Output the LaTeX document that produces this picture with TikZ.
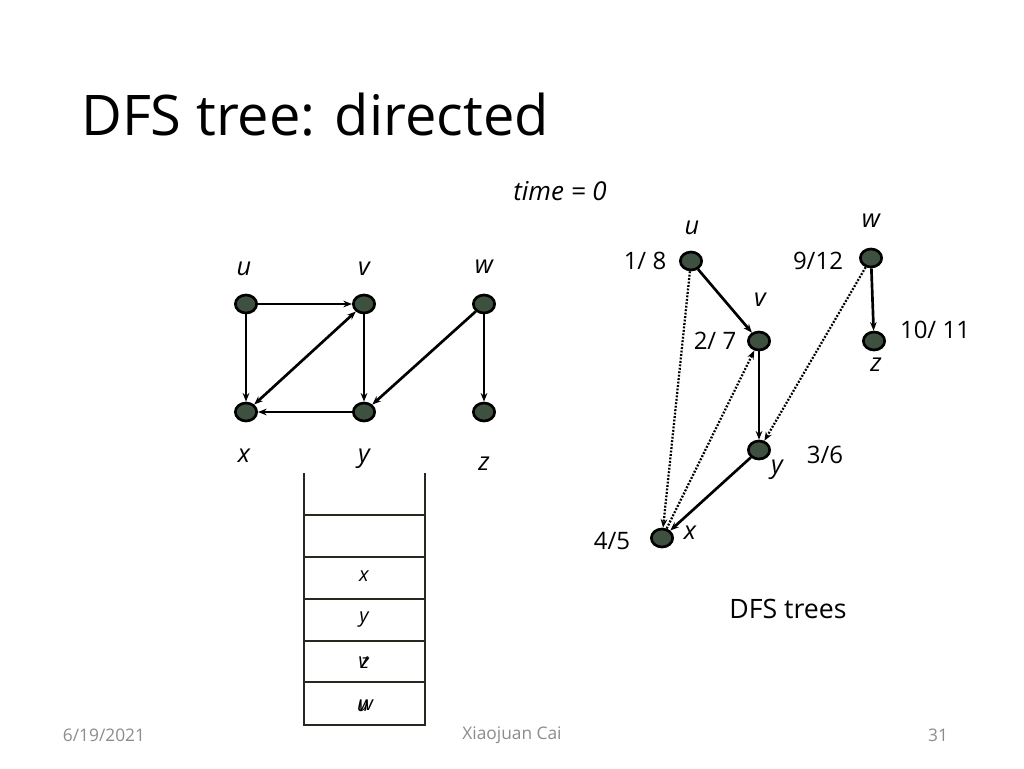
\documentclass[tikz,border=0pt]{standalone}
\usepackage{fontspec}
\setmainfont{Open Sans}
\usetikzlibrary{arrows.meta,shapes.geometric}
\definecolor{nodefill}{RGB}{62,80,64}
\definecolor{stackcol}{RGB}{40,40,32}
\definecolor{footgray}{RGB}{140,140,140}
\begin{document}
\begin{tikzpicture}[x=0.75pt,y=-0.75pt,
  vtx/.style={ellipse,draw=black,line width=2pt,fill=nodefill,minimum width=16pt,minimum height=13.5pt,inner sep=0pt},
  lbl/.style={font=\fontsize{19}{22}\selectfont\itshape,inner sep=0pt},
  slbl/.style={font=\fontsize{15}{18}\selectfont\itshape,inner sep=0pt},
  num/.style={font=\fontsize{18}{21}\selectfont,inner sep=0pt},
  edge/.style={line width=2pt,-{Stealth[length=6.5pt,width=5pt]}},
  back/.style={line width=1.7pt,dash pattern=on 1.4pt off 1.2pt,-{Stealth[length=6.5pt,width=5pt]}},
  stk/.style={line width=2.2pt,draw=stackcol},
  foot/.style={font=\fontsize{13}{15}\selectfont,text=footgray,inner sep=0pt}]
\useasboundingbox (0,0) rectangle (1024,768);
\fill[white] (0,0) rectangle (1024,768);
% title
\node[anchor=base west,inner sep=0pt,font=\fontsize{42}{48}\selectfont] (title) at (81,135) {DFS tree: directed};
\node[anchor=base,inner sep=0pt,font=\fontsize{19.5}{22}\selectfont\itshape] (time) at (560,200) {time = 0};
% left graph
\node[vtx] (u) at (246,304) {};
\node[vtx] (v) at (364,304) {};
\node[vtx] (w) at (484,304) {};
\node[vtx] (x) at (246,412) {};
\node[vtx] (y) at (364,412) {};
\node[vtx] (z) at (484,412) {};
\node[lbl] (lu) at (244,269) {u};
\node[lbl] (lv) at (364,269) {v};
\node[lbl] (lw) at (484,267) {w};
\node[lbl] (lx) at (244,456) {x};
\node[lbl] (ly) at (364,459) {y};
\node[lbl] (lz) at (484,464) {z};
\draw[edge] (u) -- (v);
\draw[edge] (u) -- (x);
\draw[edge,{Stealth[length=6.5pt,width=5pt]}-{Stealth[length=6.5pt,width=5pt]}] (x) -- (v);
\draw[edge] (y) -- (x);
\draw[edge] (v) -- (y);
\draw[edge] (w) -- (y);
\draw[edge] (w) -- (z);
% stack
\draw[stk] (304,473) -- (304,725) -- (425,725) -- (425,473);
\foreach \yy in {515,557,599,641,682} \draw[stk] (304,\yy) -- (425,\yy);
\node[slbl] (sx) at (364,576) {x};
\node[slbl] (sy) at (364,620) {y};
\node[slbl] (sz) at (365,663) {z};
\node[slbl] (sv) at (363,662) {v};
\node[slbl] (sw) at (366,705) {w};
\node[slbl] (su) at (363,706) {u};
% right tree
\node[vtx] (tu) at (691,261) {};
\node[vtx] (tw) at (871,258) {};
\node[vtx] (tv) at (759,341) {};
\node[vtx] (tz) at (874,341) {};
\node[vtx] (ty) at (759,450) {};
\node[vtx] (tx) at (662,538) {};
\node[lbl] (tlu) at (692,228) {u};
\node[lbl] (tlw) at (871,221) {w};
\node[lbl] (tlv) at (760,300) {v};
\node[lbl] (tlz) at (876,365) {z};
\node[lbl] (tly) at (777,470) {y};
\node[lbl] (tlx) at (690,533) {x};
\node[num] (n18) at (645,261) {1/ 8};
\node[num] (n912) at (818,261) {9/12};
\node[num] (n27) at (715,341) {2/ 7};
\node[num] (n1011) at (935,330) {10/ 11};
\node[num] (n36) at (825,455) {3/6};
\node[num] (n45) at (612,541) {4/5};
\draw[edge] (tu) -- (tv);
\draw[edge] (tv) -- (ty);
\draw[edge] (ty) -- (tx);
\draw[edge] (tw) -- (tz);
\draw[back] (tu) -- (tx);
\draw[back] (tx) -- (tv);
\draw[back] (tw) -- (ty);
\node[anchor=base,inner sep=0pt,font=\fontsize{20}{24}\selectfont] (dfst) at (788,618) {DFS trees};
% footer
\node[foot] (date) at (104,735) {6/19/2021};
\node[foot] (auth) at (512,735) {Xiaojuan Cai};
\node[foot] (page) at (938,735) {31};
\end{tikzpicture}
\end{document}
